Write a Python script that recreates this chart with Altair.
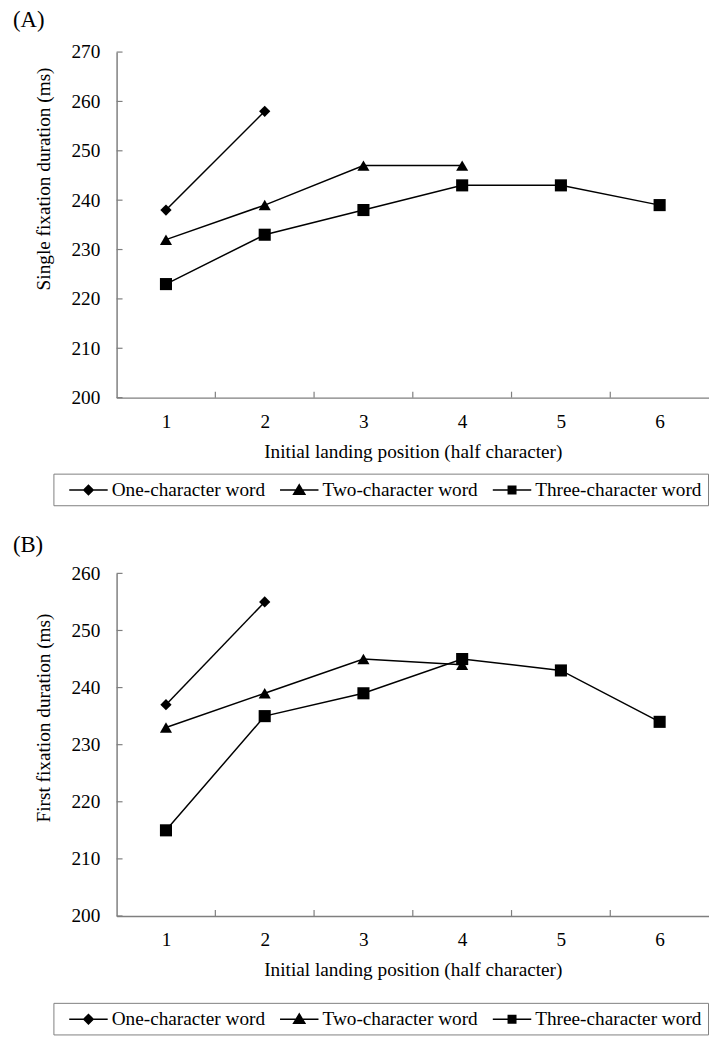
import altair as alt
import pandas as pd

# ---------------- data ----------------
positions = [1, 2, 3, 4, 5, 6]
series_names = ["One-character word", "Two-character word", "Three-character word"]

a_one = [238, 258]
a_two = [232, 239, 247, 247]
a_three = [223, 233, 238, 243, 243, 239]

b_one = [237, 255]
b_two = [233, 239, 245, 244]
b_three = [215, 235, 239, 245, 243, 234]

a_yticks = [200, 210, 220, 230, 240, 250, 260, 270]
b_yticks = [200, 210, 220, 230, 240, 250, 260]
x_boundaries = [1.5, 2.5, 3.5, 4.5, 5.5]

FONT = "Liberation Serif"
AXIS_GRAY = "#7f7f7f"
FS = 19.5

marker_shapes = ["diamond", "triangle-up", "square"]
marker_sizes = [130, 150, 150]
legend_paths = [
    "M-0.05,0L4.05,0M2,-0.5L2.5,0L2,0.5L1.5,0Z",
    "M-0.05,0L4.05,0M2,-0.55L2.6,0.45L1.4,0.45Z",
    "M-0.05,0L4.05,0M1.6,-0.4L2.4,-0.4L2.4,0.4L1.6,0.4Z",
]


def make_df(one, two, three):
    rows = []
    for name, vals in zip(series_names, [one, two, three]):
        for p, v in zip(positions, vals):
            rows.append({"series": name, "pos": p, "val": v})
    return pd.DataFrame(rows)


def panel(df, yticks, ytitle, label, height, title_offset, legend_y, title_y):
    xscale = alt.Scale(domain=[0.5, 6.5], nice=False, zero=False)
    yscale = alt.Scale(domain=[yticks[0], yticks[-1]], nice=False, zero=False)
    x = alt.X(
        "pos:Q",
        scale=xscale,
        axis=alt.Axis(
            values=positions, format="d",
            title="Initial landing position (half character)",
            ticks=False, tickSize=0, grid=False,
            labelPadding=15, titlePadding=12,
        ),
    )
    y = alt.Y(
        "val:Q",
        scale=yscale,
        axis=alt.Axis(
            values=yticks, title=ytitle,
            ticks=False, tickSize=0, grid=False,
            labelPadding=17, titlePadding=18, titleY=title_y,
        ),
    )
    base = alt.Chart(df)
    lines = base.mark_line(color="black", strokeWidth=1.5).encode(
        x=x, y=y, detail="series:N"
    )
    point_layers = [
        base.transform_filter(alt.datum.series == name).mark_point(
            filled=True, color="black", opacity=1, shape=shp, size=sz
        ).encode(x=x, y=y)
        for name, shp, sz in zip(series_names, marker_shapes, marker_sizes)
    ]
    legend_kw = dict(
        title=None, orient="none", legendX=-64, legendY=legend_y,
        direction="horizontal", strokeColor=AXIS_GRAY, padding=6,
        labelFontSize=FS, labelFont=FONT, labelOffset=32,
        columnPadding=4.5, symbolSize=361, symbolStrokeWidth=1.5,
        labelLimit=0, labelColor="black",
    )
    legend_layer = base.transform_filter("false").mark_point(
        filled=True, color="black", size=361, opacity=1, strokeWidth=1.5
    ).encode(
        stroke=alt.Stroke(
            "series:N",
            scale=alt.Scale(domain=series_names, range=["black", "black", "black"]),
            legend=alt.Legend(**legend_kw),
        ),
        shape=alt.Shape(
            "series:N",
            scale=alt.Scale(domain=series_names, range=legend_paths),
            legend=alt.Legend(**legend_kw),
        ),
    )
    xt = alt.Chart(pd.DataFrame({"pos": x_boundaries})).mark_rule(
        color=AXIS_GRAY, strokeWidth=1.2
    ).encode(x=x, y=alt.value(height), y2=alt.value(height - 6))
    yt = alt.Chart(pd.DataFrame({"val": yticks})).mark_rule(
        color=AXIS_GRAY, strokeWidth=1.2
    ).encode(y=y, x=alt.value(0), x2=alt.value(6))

    return alt.layer(xt, yt, lines, *point_layers, legend_layer).properties(
        width=600, height=height,
        title=alt.TitleParams(
            label, anchor="start", frame="group", dx=-105, offset=title_offset,
            fontSize=23, fontWeight="normal", font=FONT, baseline="alphabetic",
            color="black",
        ),
    )


chart_a = panel(make_df(a_one, a_two, a_three), a_yticks,
                "Single fixation duration (ms)", "(A)", 350, -8, 427, 128)
chart_b = panel(make_df(b_one, b_two, b_three), b_yticks,
                "First fixation duration (ms)", "(B)", 347, -11, 435, 146)

chart = alt.vconcat(chart_a, chart_b, spacing=28).resolve_scale(
    shape="independent", stroke="independent"
).resolve_legend(shape="independent", stroke="independent").properties(
    padding={"top": -5, "left": 5, "right": 0, "bottom": 0}
).configure(
    font=FONT
).configure_view(stroke=None).configure_axis(
    domainColor=AXIS_GRAY, domainWidth=1.5,
    labelFont=FONT, labelFontSize=FS, labelColor="black",
    titleFont=FONT, titleFontSize=FS, titleFontWeight="normal", titleColor="black",
)

chart.save("out.html", embed_options={"renderer": "svg", "actions": False})
